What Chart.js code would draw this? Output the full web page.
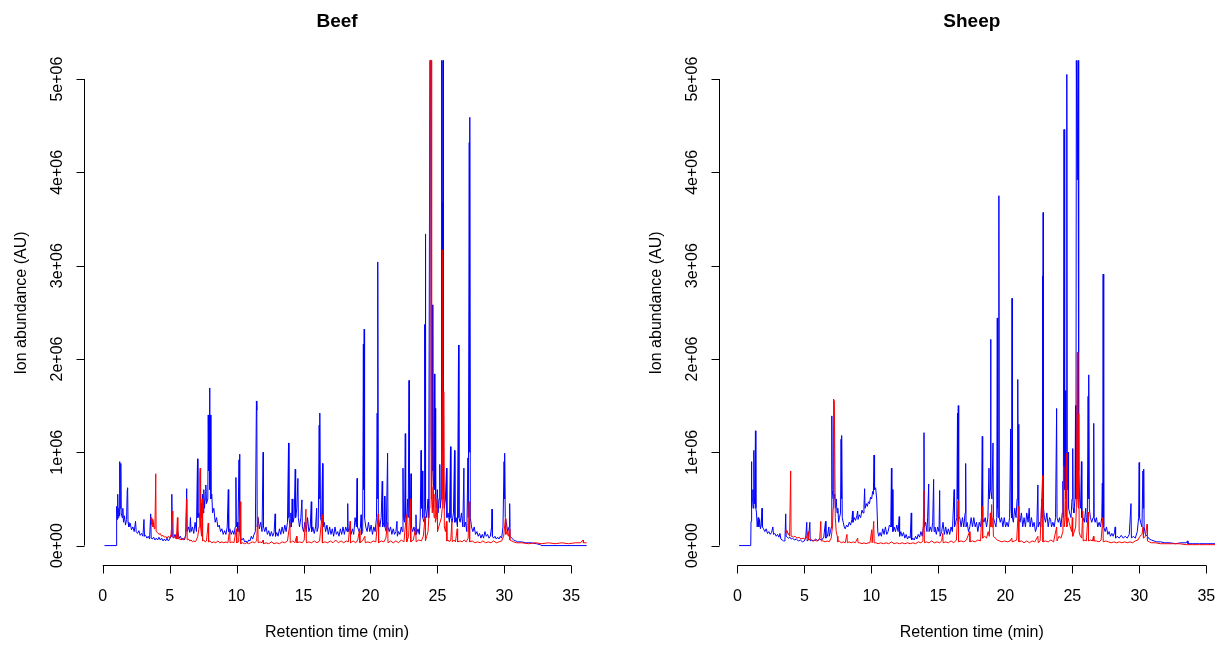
<!DOCTYPE html>
<html>
<head>
<meta charset="utf-8">
<script src="https://cdn.jsdelivr.net/npm/chart.js@4"></script>
<style>
html, body { margin: 0; padding: 0; background: #fff; overflow: hidden; }
#wrap { position: relative; width: 1215px; height: 645px; }
canvas { position: absolute; top: 0; }
</style>
</head>
<body>
<div id="wrap">
  <canvas id="beef" width="607" height="645" style="left:0"></canvas>
  <canvas id="sheep" width="608" height="645" style="left:607px"></canvas>
</div>
<script>
// Axis ticks (R style)
var xTicks = [0, 5, 10, 15, 20, 25, 30, 35];
var yTicks = [0, 1, 2, 3, 4, 5];
var yTickLabels = ['0e+00', '1e+06', '2e+06', '3e+06', '4e+06', '5e+06'];

// Chromatograms: [retention time (min), abundance (millions AU)]
var beefBlue = [
  [0.13,0],[1.0,0],[1.02,0.3],[1.06,0.42],[1.09,0.28],[1.12,0.55],[1.15,0.3],[1.2,0.4],[1.25,0.32],[1.27,0.9],[1.29,0.4],
  [1.34,0.5],[1.36,0.88],[1.38,0.35],[1.45,0.3],[1.5,0.4],[1.55,0.25],[1.62,0.32],[1.7,0.22],[1.78,0.28],[1.83,0.6],
  [1.86,0.62],[1.89,0.25],[1.95,0.2],[2.05,0.24],[2.15,0.17],[2.25,0.2],[2.35,0.15],[2.45,0.26],[2.5,0.15],[2.6,0.13],
  [2.7,0.16],[2.8,0.11],[2.9,0.13],[3.0,0.1],[3.08,0.28],[3.12,0.1],[3.2,0.11],[3.3,0.08],[3.4,0.1],[3.5,0.07],[3.58,0.34],
  [3.62,0.08],[3.7,0.07],[3.8,0.09],[3.9,0.06],[4.0,0.08],[4.1,0.06],[4.2,0.09],[4.3,0.06],[4.4,0.08],[4.5,0.05],[4.6,0.07],
  [4.7,0.05],[4.8,0.08],[4.9,0.05],[5.0,0.07],[5.1,0.1],[5.16,0.55],[5.19,0.1],[5.3,0.08],[5.4,0.12],[5.5,0.07],[5.6,0.15],
  [5.7,0.08],[5.8,0.1],[5.9,0.06],[6.0,0.08],[6.1,0.06],[6.2,0.12],[6.27,0.61],[6.3,0.15],[6.4,0.2],[6.5,0.14],[6.55,0.3],
  [6.6,0.15],[6.7,0.2],[6.8,0.13],[6.9,0.25],[7.0,0.15],[7.08,0.93],[7.11,0.3],[7.2,0.35],[7.3,0.25],[7.35,0.45],[7.4,0.3],
  [7.45,0.55],[7.5,0.35],[7.55,0.6],[7.6,0.4],[7.65,0.5],[7.7,0.65],[7.75,0.45],[7.85,0.5],[7.88,1.4],[7.92,0.8],[7.95,1.4],
  [7.98,1.69],[8.01,0.6],[8.05,1.4],[8.08,0.5],[8.15,0.55],[8.2,0.35],[8.3,0.4],[8.4,0.25],[8.5,0.3],[8.6,0.2],[8.7,0.22],
  [8.8,0.15],[8.9,0.18],[9.0,0.12],[9.1,0.16],[9.2,0.12],[9.3,0.2],[9.38,0.6],[9.41,0.15],[9.5,0.18],[9.6,0.12],[9.7,0.16],
  [9.8,0.12],[9.9,0.2],[9.95,0.73],[9.98,0.2],[10.05,0.25],[10.1,0.15],[10.18,0.92],[10.22,0.98],[10.25,0.15],[10.3,0.08],
  [10.4,0.06],[10.5,0.08],[10.6,0.04],[10.7,0.05],[10.8,0.03],[10.9,0.06],[11.0,0.05],[11.1,0.1],[11.2,0.07],[11.3,0.12],
  [11.4,0.15],[11.48,1.55],[11.51,1.45],[11.54,0.2],[11.6,0.3],[11.7,0.18],[11.8,0.25],[11.9,0.15],[11.98,1.0],[12.01,0.2],
  [12.1,0.15],[12.2,0.2],[12.3,0.12],[12.4,0.16],[12.5,0.1],[12.6,0.15],[12.7,0.1],[12.8,0.14],[12.88,0.34],[12.91,0.1],
  [13.0,0.14],[13.1,0.1],[13.2,0.18],[13.3,0.12],[13.4,0.2],[13.5,0.13],[13.6,0.22],[13.7,0.15],[13.8,0.25],[13.88,1.1],
  [13.91,0.3],[14.0,0.2],[14.05,0.35],[14.1,0.2],[14.15,0.5],[14.2,0.25],[14.3,0.3],[14.38,0.82],[14.41,0.3],[14.5,0.4],
  [14.58,0.72],[14.61,0.3],[14.7,0.2],[14.8,0.3],[14.88,0.49],[14.91,0.2],[15.0,0.15],[15.1,0.25],[15.2,0.15],[15.3,0.3],
  [15.4,0.15],[15.5,0.2],[15.58,0.47],[15.61,0.15],[15.7,0.2],[15.8,0.13],[15.9,0.2],[15.98,0.4],[16.01,0.15],[16.1,0.2],
  [16.17,1.29],[16.2,0.5],[16.23,1.42],[16.26,0.3],[16.35,0.25],[16.42,0.88],[16.45,0.2],[16.55,0.25],[16.65,0.15],
  [16.75,0.22],[16.85,0.12],[16.95,0.2],[17.05,0.12],[17.15,0.18],[17.25,0.1],[17.35,0.2],[17.45,0.12],[17.55,0.15],
  [17.65,0.1],[17.75,0.18],[17.85,0.12],[17.95,0.2],[18.05,0.12],[18.15,0.2],[18.25,0.15],[18.3,0.45],[18.33,0.15],
  [18.45,0.2],[18.55,0.12],[18.65,0.18],[18.75,0.12],[18.85,0.3],[18.95,0.2],[19.0,0.72],[19.03,0.2],[19.15,0.15],
  [19.25,0.2],[19.3,0.33],[19.33,0.12],[19.42,0.15],[19.47,2.16],[19.5,0.6],[19.53,2.32],[19.56,0.3],[19.65,0.2],
  [19.75,0.15],[19.85,0.25],[19.95,0.15],[20.05,0.22],[20.15,0.12],[20.25,0.2],[20.35,0.15],[20.45,0.3],[20.5,1.42],
  [20.53,0.5],[20.56,3.04],[20.59,0.3],[20.7,0.2],[20.8,0.3],[20.88,0.69],[20.91,0.2],[21.0,0.25],[21.05,0.53],[21.08,0.2],
  [21.18,0.15],[21.28,0.99],[21.31,0.2],[21.4,0.15],[21.5,0.2],[21.6,0.12],[21.7,0.18],[21.8,0.12],[21.9,0.15],[21.98,0.26],
  [22.01,0.1],[22.1,0.15],[22.2,0.12],[22.3,0.2],[22.38,0.15],[22.43,0.83],[22.46,0.3],[22.55,0.25],[22.6,1.2],[22.63,0.3],
  [22.7,0.25],[22.78,0.5],[22.82,0.3],[22.88,1.77],[22.91,0.4],[22.97,0.3],[23.03,0.77],[23.06,0.2],[23.15,0.15],
  [23.25,0.2],[23.35,0.12],[23.4,0.33],[23.43,0.12],[23.55,0.18],[23.65,0.12],[23.72,0.3],[23.78,1.02],[23.81,0.4],
  [23.88,0.8],[23.91,0.3],[24.0,0.25],[24.05,2.37],[24.08,0.5],[24.1,3.34],[24.13,0.4],[24.2,0.3],[24.3,0.5],[24.35,0.3],
  [24.44,5.2],[24.5,5.2],[24.53,1.2],[24.58,0.8],[24.63,2.58],[24.66,0.8],[24.72,0.6],[24.78,1.84],[24.81,0.6],[24.84,1.47],
  [24.87,0.5],[24.95,0.4],[25.0,0.6],[25.05,0.35],[25.12,0.5],[25.18,0.87],[25.21,0.4],[25.28,0.5],[25.32,5.2],[25.35,1.5],
  [25.37,3.68],[25.4,1.0],[25.42,5.2],[25.45,0.6],[25.52,0.4],[25.6,0.5],[25.68,0.83],[25.71,0.3],[25.8,0.35],[25.9,0.25],
  [25.98,1.06],[26.01,0.3],[26.1,0.25],[26.2,0.35],[26.28,1.02],[26.31,0.25],[26.4,0.3],[26.5,0.2],[26.58,2.15],[26.61,0.3],
  [26.7,0.25],[26.8,0.35],[26.9,0.2],[26.98,0.83],[27.01,0.2],[27.1,0.25],[27.2,0.15],[27.28,0.94],[27.31,0.3],[27.38,4.32],
  [27.41,1.0],[27.43,4.59],[27.46,0.3],[27.55,0.2],[27.65,0.15],[27.75,0.2],[27.85,0.12],[27.95,0.15],[28.05,0.1],
  [28.15,0.13],[28.25,0.08],[28.35,0.12],[28.45,0.08],[28.55,0.15],[28.65,0.1],[28.75,0.12],[28.85,0.08],[28.95,0.1],
  [29.05,0.2],[29.08,0.39],[29.11,0.1],[29.2,0.08],[29.3,0.1],[29.4,0.07],[29.5,0.09],[29.6,0.07],[29.7,0.1],[29.8,0.08],
  [29.9,0.2],[29.98,0.9],[30.01,0.5],[30.04,0.99],[30.07,0.3],[30.15,0.25],[30.25,0.15],[30.35,0.2],[30.4,0.45],[30.43,0.1],
  [30.55,0.08],[30.7,0.06],[30.85,0.05],[31.0,0.04],[31.3,0.04],[31.6,0.03],[32.0,0.03],[32.4,0.02],[32.7,0.01],[32.75,0.0],
  [36.15,0.0]
];
var beefRed = [
  [3.6,0.28],[3.62,0.3],[3.66,0.22],[3.7,0.28],[3.75,0.2],[3.8,0.25],[3.85,0.18],[3.9,0.2],[3.96,0.77],[3.99,0.15],[4.1,0.14],
  [4.2,0.12],[4.3,0.13],[4.4,0.1],[4.5,0.11],[4.6,0.09],[4.7,0.1],[4.8,0.08],[4.9,0.1],[5.0,0.08],[5.1,0.12],[5.24,0.37],
  [5.27,0.08],[5.4,0.1],[5.5,0.07],[5.58,0.3],[5.61,0.07],[5.7,0.08],[5.8,0.06],[5.9,0.08],[6.0,0.06],[6.1,0.07],[6.2,0.1],
  [6.28,0.5],[6.31,0.06],[6.4,0.07],[6.5,0.05],[6.6,0.06],[6.7,0.04],[6.8,0.05],[6.9,0.04],[7.0,0.06],[7.1,0.1],[7.2,0.2],
  [7.25,0.75],[7.28,0.83],[7.31,0.2],[7.38,0.1],[7.43,0.5],[7.46,0.05],[7.55,0.06],[7.65,0.04],[7.75,0.05],[7.88,0.24],
  [7.91,0.04],[8.0,0.05],[8.15,0.03],[8.3,0.04],[8.45,0.03],[8.6,0.05],[8.75,0.03],[8.9,0.04],[9.05,0.03],[9.2,0.04],
  [9.35,0.03],[9.48,0.17],[9.51,0.03],[9.65,0.04],[9.8,0.03],[9.98,0.18],[10.01,0.03],[10.15,0.04],[10.28,0.47],[10.31,0.02],
  [10.45,0.03],[10.6,0.02],[10.75,0.03],[10.9,0.02],[11.05,0.03],[11.2,0.04],[11.35,0.03],[11.5,0.05],[11.58,0.31],
  [11.61,0.03],[11.75,0.04],[11.9,0.03],[11.98,0.06],[12.01,0.02],[12.2,0.03],[12.4,0.02],[12.6,0.04],[12.8,0.02],[13.0,0.03],
  [13.2,0.02],[13.4,0.04],[13.6,0.03],[13.8,0.05],[13.98,0.24],[14.01,0.03],[14.2,0.05],[14.35,0.03],[14.48,0.1],[14.51,0.03],
  [14.7,0.04],[14.9,0.03],[15.05,0.06],[15.18,0.39],[15.21,0.03],[15.4,0.04],[15.6,0.03],[15.8,0.05],[16.0,0.03],[16.2,0.05],
  [16.38,0.33],[16.41,0.03],[16.6,0.04],[16.8,0.03],[17.0,0.05],[17.2,0.03],[17.4,0.06],[17.6,0.03],[17.8,0.05],[18.0,0.03],
  [18.2,0.05],[18.35,0.04],[18.48,0.26],[18.51,0.03],[18.7,0.05],[18.9,0.03],[19.05,0.06],[19.18,0.17],[19.21,0.03],
  [19.4,0.05],[19.58,0.1],[19.61,0.03],[19.8,0.04],[20.0,0.03],[20.2,0.05],[20.4,0.04],[20.58,0.34],[20.61,0.03],[20.8,0.05],
  [21.0,0.04],[21.15,0.08],[21.28,0.25],[21.31,0.03],[21.5,0.05],[21.7,0.03],[21.9,0.05],[22.1,0.03],[22.3,0.06],[22.5,0.04],
  [22.68,0.33],[22.71,0.04],[22.85,0.1],[22.98,0.5],[23.01,0.04],[23.2,0.06],[23.38,0.19],[23.41,0.04],[23.6,0.06],
  [23.8,0.05],[23.95,0.1],[24.08,0.31],[24.11,0.05],[24.2,0.1],[24.3,0.15],[24.4,0.4],[24.44,4.0],[24.47,5.2],[24.54,5.2],
  [24.57,0.5],[24.62,0.35],[24.68,0.63],[24.71,0.4],[24.76,0.3],[24.82,0.55],[24.85,0.25],[24.92,0.3],[24.98,0.5],
  [25.01,0.15],[25.1,0.2],[25.2,0.25],[25.3,0.3],[25.36,0.4],[25.39,3.17],[25.42,0.6],[25.46,0.5],[25.49,1.65],[25.52,0.2],
  [25.6,0.15],[25.68,0.26],[25.71,0.05],[25.8,0.06],[25.9,0.04],[26.0,0.06],[26.08,0.26],[26.11,0.04],[26.25,0.06],
  [26.35,0.04],[26.48,0.18],[26.51,0.04],[26.7,0.05],[26.85,0.04],[27.0,0.06],[27.15,0.04],[27.3,0.08],[27.38,0.47],
  [27.41,0.04],[27.6,0.05],[27.8,0.03],[28.0,0.04],[28.2,0.03],[28.4,0.05],[28.6,0.03],[28.8,0.04],[29.0,0.03],[29.2,0.05],
  [29.4,0.03],[29.6,0.04],[29.8,0.05],[29.95,0.1],[30.08,0.29],[30.11,0.12],[30.2,0.15],[30.3,0.1],[30.38,0.18],[30.41,0.06],
  [30.55,0.05],[30.7,0.04],[30.9,0.03],[31.3,0.03],[31.8,0.02],[32.3,0.03],[32.8,0.02],[33.3,0.03],[33.8,0.02],[34.3,0.03],
  [34.8,0.02],[35.3,0.03],[35.7,0.03],[35.88,0.06],[35.91,0.03],[36.15,0.03]
];
var sheepBlue = [
  [0.13,0.0],[1.0,0.0],[1.02,0.26],[1.05,0.9],[1.08,0.4],[1.12,0.5],[1.16,0.6],[1.19,0.4],[1.23,1.02],[1.26,0.5],[1.3,0.45],
  [1.35,1.23],[1.38,0.4],[1.43,0.35],[1.48,0.2],[1.55,0.3],[1.6,0.2],[1.66,0.28],[1.72,0.18],[1.78,0.22],[1.84,0.4],
  [1.87,0.2],[1.95,0.18],[2.05,0.15],[2.15,0.18],[2.25,0.13],[2.35,0.15],[2.45,0.12],[2.55,0.14],[2.65,0.2],[2.7,0.12],
  [2.8,0.13],[2.9,0.1],[3.0,0.12],[3.1,0.09],[3.18,0.13],[3.25,0.07],[3.35,0.06],[3.45,0.05],[3.55,0.05],[3.61,0.34],
  [3.64,0.1],[3.72,0.09],[3.82,0.08],[3.92,0.09],[4.02,0.07],[4.12,0.08],[4.25,0.06],[4.4,0.07],[4.55,0.05],[4.7,0.06],
  [4.85,0.04],[5.0,0.05],[5.1,0.08],[5.18,0.25],[5.21,0.05],[5.3,0.06],[5.41,0.25],[5.44,0.05],[5.55,0.06],[5.7,0.05],
  [5.85,0.07],[6.0,0.05],[6.15,0.07],[6.3,0.06],[6.45,0.09],[6.58,0.26],[6.61,0.08],[6.72,0.1],[6.83,0.2],[6.86,0.1],
  [6.95,0.15],[7.02,0.2],[7.05,1.39],[7.08,0.6],[7.14,0.5],[7.18,1.29],[7.21,0.5],[7.27,0.55],[7.32,0.4],[7.38,0.5],
  [7.44,0.35],[7.5,0.4],[7.56,0.25],[7.62,0.3],[7.7,0.35],[7.74,1.14],[7.77,0.5],[7.8,1.18],[7.83,0.3],[7.9,0.25],[7.98,0.2],
  [8.05,0.18],[8.15,0.22],[8.25,0.2],[8.35,0.25],[8.45,0.22],[8.55,0.28],[8.6,0.37],[8.63,0.25],[8.72,0.3],[8.82,0.27],
  [8.92,0.32],[8.98,0.37],[9.01,0.28],[9.1,0.33],[9.2,0.3],[9.3,0.38],[9.38,0.35],[9.45,0.42],[9.5,0.61],[9.53,0.4],
  [9.62,0.45],[9.7,0.42],[9.78,0.47],[9.86,0.45],[9.94,0.52],[10.02,0.5],[10.1,0.58],[10.15,0.55],[10.2,0.97],[10.24,0.6],
  [10.32,0.62],[10.4,0.5],[10.48,0.15],[10.55,0.1],[10.65,0.14],[10.75,0.1],[10.85,0.18],[10.95,0.12],[11.05,0.2],
  [11.15,0.12],[11.25,0.15],[11.35,0.22],[11.45,0.2],[11.5,0.83],[11.53,0.2],[11.58,0.6],[11.61,0.15],[11.7,0.2],[11.8,0.15],
  [11.9,0.22],[12.0,0.15],[12.08,0.31],[12.11,0.1],[12.2,0.15],[12.3,0.1],[12.4,0.14],[12.5,0.08],[12.6,0.12],[12.7,0.07],
  [12.8,0.1],[12.9,0.08],[12.98,0.35],[13.01,0.06],[13.1,0.08],[13.2,0.06],[13.3,0.1],[13.4,0.07],[13.5,0.12],[13.6,0.09],
  [13.7,0.15],[13.8,0.1],[13.88,0.2],[13.93,1.21],[13.96,0.2],[14.05,0.25],[14.15,0.15],[14.2,0.3],[14.28,0.66],[14.31,0.15],
  [14.4,0.2],[14.5,0.15],[14.58,0.25],[14.65,0.71],[14.68,0.15],[14.75,0.2],[14.85,0.12],[14.95,0.2],[15.05,0.15],[15.1,0.59],
  [15.13,0.1],[15.25,0.15],[15.35,0.25],[15.45,0.12],[15.55,0.2],[15.65,0.12],[15.75,0.18],[15.85,0.12],[15.95,0.2],
  [16.05,0.15],[16.18,0.6],[16.21,0.2],[16.3,0.25],[16.38,0.3],[16.43,1.42],[16.46,0.5],[16.49,1.5],[16.52,0.3],[16.6,0.3],
  [16.7,0.2],[16.8,0.3],[16.9,0.2],[17.0,0.35],[17.04,0.88],[17.07,0.2],[17.15,0.25],[17.25,0.15],[17.35,0.2],[17.45,0.3],
  [17.55,0.2],[17.65,0.3],[17.75,0.2],[17.85,0.25],[17.95,0.15],[18.05,0.25],[18.15,0.2],[18.22,0.3],[18.28,1.17],[18.31,0.3],
  [18.4,0.25],[18.5,0.3],[18.6,0.2],[18.7,0.3],[18.78,0.83],[18.81,0.5],[18.86,0.6],[18.9,2.21],[18.93,0.6],[19.0,0.5],
  [19.08,1.1],[19.11,0.3],[19.2,0.25],[19.3,0.2],[19.36,0.3],[19.4,2.44],[19.43,0.4],[19.47,0.3],[19.52,3.75],[19.55,0.3],
  [19.62,0.25],[19.72,0.3],[19.82,0.2],[19.92,0.3],[20.02,0.2],[20.12,0.25],[20.22,0.2],[20.32,0.3],[20.4,1.25],[20.43,0.4],
  [20.47,0.3],[20.5,2.65],[20.53,0.3],[20.6,0.25],[20.7,0.4],[20.8,0.3],[20.88,0.5],[20.93,1.78],[20.96,0.4],[20.99,1.3],
  [21.02,0.3],[21.1,0.25],[21.2,0.35],[21.3,0.2],[21.4,0.3],[21.5,0.2],[21.6,0.35],[21.7,0.25],[21.78,0.4],[21.85,0.2],
  [21.95,0.3],[22.05,0.2],[22.15,0.25],[22.25,0.15],[22.35,0.2],[22.43,0.65],[22.46,0.2],[22.55,0.25],[22.65,0.2],[22.72,0.5],
  [22.75,0.3],[22.78,2.89],[22.8,0.6],[22.82,3.57],[22.85,0.4],[22.92,0.3],[23.0,0.25],[23.1,0.35],[23.2,0.2],[23.3,0.3],
  [23.38,0.28],[23.45,0.2],[23.55,0.25],[23.65,0.2],[23.75,0.3],[23.83,1.47],[23.86,0.3],[23.95,0.25],[24.05,0.3],
  [24.15,0.2],[24.25,0.35],[24.3,0.69],[24.33,0.3],[24.38,4.46],[24.41,1.0],[24.45,0.6],[24.48,1.66],[24.51,0.5],[24.55,0.6],
  [24.59,5.05],[24.62,0.8],[24.66,0.6],[24.69,1.0],[24.72,0.4],[24.8,0.35],[24.9,0.3],[24.98,0.5],[25.03,1.04],[25.06,0.4],
  [25.12,0.35],[25.2,0.5],[25.24,1.5],[25.27,0.5],[25.3,5.2],[25.34,5.2],[25.37,3.92],[25.4,3.92],[25.43,5.2],[25.46,5.2],
  [25.49,0.8],[25.55,0.5],[25.62,0.4],[25.68,0.9],[25.71,0.3],[25.8,0.3],[25.9,0.25],[26.0,0.4],[26.05,0.25],[26.12,0.3],
  [26.18,1.6],[26.21,0.5],[26.24,1.83],[26.27,0.4],[26.35,0.3],[26.45,0.25],[26.55,0.3],[26.6,1.31],[26.63,0.3],[26.7,0.25],
  [26.8,0.3],[26.9,0.2],[27.0,0.25],[27.1,0.2],[27.2,0.3],[27.24,0.67],[27.27,0.3],[27.3,2.91],[27.33,1.08],[27.36,0.2],
  [27.45,0.15],[27.55,0.2],[27.65,0.12],[27.75,0.15],[27.85,0.1],[27.95,0.13],[28.05,0.1],[28.15,0.14],[28.2,0.2],[28.23,0.08],
  [28.35,0.1],[28.5,0.08],[28.65,0.11],[28.8,0.08],[28.95,0.1],[29.1,0.08],[29.25,0.12],[29.38,0.45],[29.41,0.08],[29.55,0.1],
  [29.7,0.08],[29.85,0.15],[29.95,0.3],[29.99,0.89],[30.02,0.3],[30.1,0.25],[30.2,0.2],[30.27,0.8],[30.3,0.4],[30.33,0.82],
  [30.36,0.2],[30.45,0.12],[30.6,0.1],[30.75,0.07],[30.9,0.06],[31.1,0.05],[31.3,0.04],[31.6,0.04],[31.9,0.03],[32.3,0.03],
  [32.7,0.02],[33.1,0.03],[33.5,0.03],[33.6,0.05],[33.63,0.02],[34.0,0.02],[34.5,0.02],[35.0,0.02],[35.5,0.02],[36.15,0.02]
];
var sheepRed = [
  [3.6,0.16],[3.62,0.17],[3.67,0.14],[3.72,0.16],[3.78,0.12],[3.84,0.13],[3.9,0.1],[3.98,0.8],[4.01,0.1],[4.1,0.1],[4.2,0.09],
  [4.3,0.1],[4.45,0.08],[4.6,0.09],[4.75,0.07],[4.9,0.08],[5.05,0.07],[5.18,0.09],[5.28,0.15],[5.31,0.06],[5.45,0.07],
  [5.6,0.05],[5.75,0.06],[5.9,0.05],[6.05,0.06],[6.15,0.08],[6.23,0.26],[6.26,0.05],[6.4,0.05],[6.55,0.04],[6.7,0.05],
  [6.85,0.04],[7.0,0.08],[7.1,0.2],[7.15,0.4],[7.18,1.57],[7.24,1.55],[7.28,1.55],[7.31,0.3],[7.38,0.15],[7.46,0.1],[7.5,0.04],
  [7.6,0.05],[7.75,0.03],[7.9,0.04],[8.05,0.03],[8.18,0.12],[8.21,0.03],[8.35,0.04],[8.5,0.03],[8.65,0.04],[8.8,0.03],
  [8.98,0.08],[9.01,0.03],[9.15,0.03],[9.3,0.02],[9.45,0.03],[9.6,0.02],[9.75,0.03],[9.9,0.03],[10.03,0.17],[10.06,0.03],
  [10.18,0.26],[10.21,0.03],[10.35,0.03],[10.5,0.02],[10.7,0.03],[10.9,0.02],[11.1,0.03],[11.3,0.02],[11.5,0.04],[11.7,0.02],
  [11.9,0.03],[12.1,0.02],[12.3,0.03],[12.5,0.02],[12.7,0.03],[12.9,0.02],[13.1,0.03],[13.3,0.02],[13.5,0.04],[13.7,0.03],
  [13.85,0.05],[13.93,0.59],[13.96,0.03],[14.1,0.04],[14.3,0.03],[14.5,0.05],[14.7,0.03],[14.9,0.04],[15.1,0.03],[15.25,0.05],
  [15.33,0.13],[15.36,0.03],[15.55,0.04],[15.75,0.03],[15.95,0.05],[16.15,0.03],[16.35,0.06],[16.48,0.48],[16.51,0.04],
  [16.7,0.05],[16.9,0.04],[17.1,0.06],[17.33,0.15],[17.36,0.04],[17.55,0.05],[17.75,0.04],[17.95,0.06],[18.15,0.05],
  [18.28,0.42],[18.31,0.08],[18.45,0.1],[18.6,0.08],[18.72,0.15],[18.8,0.1],[18.88,0.35],[18.92,0.2],[18.98,0.44],[19.01,0.2],
  [19.08,0.3],[19.11,0.1],[19.25,0.08],[19.4,0.06],[19.55,0.05],[19.75,0.04],[19.95,0.05],[20.15,0.04],[20.35,0.05],
  [20.48,0.08],[20.51,0.04],[20.7,0.05],[20.85,0.06],[20.98,0.42],[21.01,0.04],[21.2,0.05],[21.4,0.03],[21.6,0.05],[21.8,0.03],
  [22.0,0.05],[22.2,0.04],[22.43,0.1],[22.46,0.03],[22.6,0.05],[22.78,0.75],[22.81,0.04],[23.0,0.05],[23.2,0.04],[23.4,0.06],
  [23.6,0.04],[23.83,0.2],[23.86,0.05],[24.0,0.1],[24.15,0.08],[24.3,0.15],[24.36,0.85],[24.39,0.2],[24.48,0.3],[24.56,0.99],
  [24.59,0.2],[24.68,0.3],[24.76,0.25],[24.85,0.2],[24.95,0.15],[25.0,0.3],[25.03,0.1],[25.15,0.15],[25.25,0.2],[25.3,0.4],
  [25.38,2.07],[25.41,0.5],[25.45,0.4],[25.48,1.41],[25.51,0.15],[25.6,0.1],[25.7,0.08],[25.78,0.37],[25.81,0.05],[25.95,0.06],
  [26.05,0.05],[26.18,0.36],[26.21,0.05],[26.35,0.06],[26.5,0.05],[26.58,0.1],[26.61,0.05],[26.8,0.05],[27.0,0.04],
  [27.15,0.06],[27.28,0.3],[27.31,0.04],[27.5,0.05],[27.7,0.04],[27.9,0.03],[28.1,0.04],[28.3,0.03],[28.5,0.04],[28.7,0.03],
  [28.9,0.04],[29.1,0.03],[29.3,0.04],[29.5,0.03],[29.7,0.05],[29.9,0.06],[30.05,0.1],[30.2,0.12],[30.28,0.2],[30.31,0.08],
  [30.45,0.1],[30.58,0.23],[30.61,0.05],[30.75,0.04],[30.9,0.03],[31.2,0.03],[31.6,0.02],[32.0,0.02],[32.5,0.02],[33.0,0.02],
  [33.5,0.01],[34.0,0.01],[34.5,0.01],[35.0,0.01],[36.15,0.01]
];

var FONT = '"Liberation Sans", Arial, sans-serif';

// draws R-like axes, labels and title from the chart scales
var rAxes = {
  id: 'rAxes',
  afterDraw: function(chart, args, opts) {
    var ctx = chart.ctx;
    var xs = chart.scales.x, ys = chart.scales.y, area = chart.chartArea;
    ctx.save();
    ctx.strokeStyle = '#000';
    ctx.fillStyle = '#000';
    ctx.lineWidth = 1;
    ctx.font = '16px ' + FONT;
    ctx.textAlign = 'center';
    ctx.textBaseline = 'middle';

    // x axis
    var yb = Math.round(area.bottom) + 0.5;
    ctx.beginPath();
    ctx.moveTo(xs.getPixelForValue(xTicks[0]), yb);
    ctx.lineTo(xs.getPixelForValue(xTicks[xTicks.length - 1]), yb);
    xTicks.forEach(function(t) {
      var px = Math.round(xs.getPixelForValue(t)) + 0.5;
      ctx.moveTo(px, yb);
      ctx.lineTo(px, yb + 8);
    });
    ctx.stroke();
    xTicks.forEach(function(t) {
      ctx.fillText(String(t), xs.getPixelForValue(t), yb + 31);
    });

    // y axis
    var xl = Math.round(area.left) + 0.5;
    ctx.beginPath();
    ctx.moveTo(xl, ys.getPixelForValue(yTicks[0]));
    ctx.lineTo(xl, ys.getPixelForValue(yTicks[yTicks.length - 1]));
    yTicks.forEach(function(v) {
      var py = Math.round(ys.getPixelForValue(v)) + 0.5;
      ctx.moveTo(xl - 8, py);
      ctx.lineTo(xl, py);
    });
    ctx.stroke();
    yTicks.forEach(function(v, i) {
      ctx.save();
      ctx.translate(xl - 27, ys.getPixelForValue(v));
      ctx.rotate(-Math.PI / 2);
      ctx.fillText(yTickLabels[i], 0, 0);
      ctx.restore();
    });

    // axis titles, centred on the full plot region
    var cx = xs.getPixelForValue(17.5);
    ctx.fillText('Retention time (min)', cx, 633);
    ctx.save();
    ctx.translate(xl - 63, (area.top + area.bottom) / 2);
    ctx.rotate(-Math.PI / 2);
    ctx.fillText('Ion abundance (AU)', 0, 0);
    ctx.restore();

    // main title
    ctx.font = 'bold 19px ' + FONT;
    ctx.fillText(opts.title, cx, 22);
    ctx.restore();
  }
};

function toXY(arr) {
  return arr.map(function(p) { return { x: p[0], y: p[1] }; });
}

function makeChart(id, title, blue, red, xMin, xMax, padLeft, padRight) {
  var ctx = document.getElementById(id).getContext('2d');
  return new Chart(ctx, {
    type: 'line',
    data: {
      datasets: [
        { label: 'red', data: toXY(red), borderColor: '#FF0000' },
        { label: 'blue', data: toXY(blue), borderColor: '#0000FF' }
      ]
    },
    options: {
      responsive: false,
      animation: false,
      events: [],
      layout: { padding: { left: padLeft, right: padRight, top: 41, bottom: 80 } },
      elements: {
        line: { borderWidth: 1, tension: 0, fill: false, borderJoinStyle: 'round' },
        point: { radius: 0 }
      },
      scales: {
        x: { type: 'linear', min: xMin, max: xMax, display: false },
        y: { type: 'linear', min: -0.208, max: 5.408, display: false }
      },
      plugins: {
        legend: { display: false },
        tooltip: { enabled: false },
        rAxes: { title: title }
      }
    },
    plugins: [rAxes]
  });
}

makeChart('beef', 'Beef', beefBlue, beefRed, -1.4, 36.4, 84, 17);
makeChart('sheep', 'Sheep', sheepBlue, sheepRed, -1.37, 35.65, 112, 0);
</script>
</body>
</html>
